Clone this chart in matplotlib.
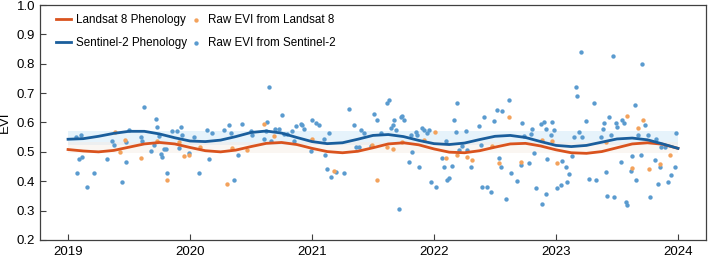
import matplotlib.pyplot as plt

plt.rcParams['font.family'] = ['Liberation Sans', 'DejaVu Sans']

# phenology curves (read every 1/8 year)
curve_t = [2019 + k * 0.125 for k in range(41)]
s2_curve = [0.543, 0.545, 0.553, 0.563, 0.570, 0.570, 0.561, 0.548,
            0.537, 0.535, 0.540, 0.552, 0.566, 0.571, 0.564, 0.549,
            0.535, 0.528, 0.531, 0.543, 0.556, 0.559, 0.552, 0.539,
            0.528, 0.525, 0.530, 0.542, 0.553, 0.556, 0.549, 0.535,
            0.522, 0.518, 0.522, 0.533, 0.544, 0.547, 0.541, 0.527, 0.512]
l8_curve = [0.508, 0.503, 0.500, 0.505, 0.516, 0.527, 0.532, 0.527,
            0.515, 0.504, 0.500, 0.506, 0.518, 0.529, 0.532, 0.525,
            0.512, 0.501, 0.497, 0.502, 0.514, 0.527, 0.531, 0.524,
            0.510, 0.499, 0.497, 0.504, 0.516, 0.527, 0.529, 0.520,
            0.507, 0.497, 0.495, 0.501, 0.514, 0.527, 0.531, 0.526, 0.512]

s2_band = [0.522, 0.570]
l8_band = [0.495, 0.535]

# raw Sentinel-2 EVI
s2_t = [2019.063, 2019.104, 2019.088, 2019.117, 2019.076, 2019.213, 2019.158, 2019.322,
        2019.363, 2019.377, 2019.473, 2019.500, 2019.445, 2019.473, 2019.596, 2019.610,
        2019.623, 2019.719, 2019.732, 2019.678, 2019.705, 2019.746, 2019.760, 2019.773,
        2019.787, 2019.800, 2019.814, 2019.855, 2019.896, 2019.924, 2019.937, 2019.910,
        2019.992, 2020.033, 2020.074, 2020.142, 2020.183, 2020.156, 2020.279, 2020.320,
        2020.334, 2020.361, 2020.396, 2020.429, 2020.497, 2020.510, 2020.607, 2020.620,
        2020.634, 2020.648, 2020.660, 2020.700, 2020.730, 2020.757, 2020.770, 2020.798,
        2020.839, 2020.852, 2020.866, 2020.907, 2020.920, 2020.934, 2021.000, 2021.030,
        2021.057, 2020.990, 2021.098, 2021.110, 2021.125, 2021.139, 2021.154, 2021.194,
        2021.262, 2021.303, 2021.344, 2021.358, 2021.385, 2021.399, 2021.426, 2021.480,
        2021.508, 2021.535, 2021.563, 2021.617, 2021.631, 2021.645, 2021.660, 2021.672,
        2021.686, 2021.727, 2021.740, 2021.754, 2021.713, 2021.795, 2021.810, 2021.822,
        2021.850, 2021.863, 2021.877, 2021.904, 2021.918, 2021.945, 2021.960, 2021.973,
        2022.014, 2022.082, 2022.096, 2022.068, 2022.109, 2022.123, 2022.150, 2022.164,
        2022.178, 2022.190, 2022.205, 2022.232, 2022.260, 2022.273, 2022.300, 2022.370,
        2022.383, 2022.396, 2022.410, 2022.437, 2022.465, 2022.490, 2022.519, 2022.560,
        2022.533, 2022.546, 2022.588, 2022.615, 2022.634, 2022.683, 2022.710, 2022.724,
        2022.738, 2022.779, 2022.793, 2022.806, 2022.820, 2022.834, 2022.874, 2022.888,
        2022.902, 2022.916, 2022.920, 2022.930, 2022.957, 2022.970, 2022.984, 2023.011,
        2023.038, 2023.052, 2023.080, 2023.093, 2023.107, 2023.134, 2023.148, 2023.162,
        2023.175, 2023.189, 2023.205, 2023.216, 2023.244, 2023.270, 2023.311, 2023.325,
        2023.366, 2023.382, 2023.393, 2023.434, 2023.448, 2023.407, 2023.420, 2023.464,
        2023.475, 2023.489, 2023.503, 2023.543, 2023.557, 2023.530, 2023.574, 2023.585,
        2023.612, 2023.625, 2023.645, 2023.653, 2023.672, 2023.694, 2023.707, 2023.727,
        2023.754, 2023.768, 2023.809, 2023.822, 2023.836, 2023.850, 2023.863, 2023.890,
        2023.918, 2023.945, 2023.973, 2023.986]
s2_evi = [0.550, 0.559, 0.477, 0.484, 0.429, 0.427, 0.382, 0.477,
          0.536, 0.525, 0.533, 0.575, 0.397, 0.467, 0.551, 0.536,
          0.654, 0.613, 0.584, 0.502, 0.525, 0.553, 0.494, 0.483,
          0.510, 0.511, 0.428, 0.570, 0.570, 0.583, 0.557, 0.513,
          0.497, 0.552, 0.427, 0.574, 0.565, 0.475, 0.573, 0.593,
          0.565, 0.404, 0.491, 0.596, 0.570, 0.556, 0.543, 0.570,
          0.601, 0.720, 0.538, 0.578, 0.579, 0.624, 0.562, 0.562,
          0.570, 0.536, 0.587, 0.596, 0.591, 0.578, 0.607, 0.599,
          0.593, 0.504, 0.545, 0.491, 0.442, 0.565, 0.416, 0.431,
          0.429, 0.647, 0.593, 0.515, 0.515, 0.574, 0.565, 0.521,
          0.630, 0.610, 0.565, 0.667, 0.675, 0.581, 0.591, 0.610,
          0.574, 0.619, 0.622, 0.607, 0.305, 0.466, 0.559, 0.499,
          0.567, 0.556, 0.447, 0.581, 0.576, 0.565, 0.575, 0.396,
          0.380, 0.449, 0.536, 0.479, 0.403, 0.412, 0.453, 0.609,
          0.566, 0.667, 0.505, 0.521, 0.570, 0.505, 0.450, 0.587,
          0.524, 0.382, 0.618, 0.380, 0.365, 0.604, 0.644, 0.639,
          0.479, 0.449, 0.340, 0.675, 0.428, 0.402, 0.456, 0.597,
          0.553, 0.462, 0.561, 0.578, 0.496, 0.377, 0.596, 0.322,
          0.601, 0.356, 0.578, 0.477, 0.559, 0.602, 0.573, 0.377,
          0.386, 0.468, 0.449, 0.397, 0.425, 0.487, 0.551, 0.720,
          0.690, 0.568, 0.840, 0.551, 0.604, 0.409, 0.667, 0.403,
          0.550, 0.578, 0.599, 0.619, 0.557, 0.431, 0.350, 0.827,
          0.348, 0.599, 0.584, 0.610, 0.599, 0.464, 0.328, 0.320,
          0.434, 0.487, 0.658, 0.403, 0.556, 0.488, 0.800, 0.593,
          0.557, 0.345, 0.471, 0.545, 0.390, 0.447, 0.517, 0.517,
          0.396, 0.422, 0.449, 0.565]

# raw Landsat 8 EVI
l8_t = [2019.385, 2019.467, 2019.426, 2019.600, 2019.732, 2019.910, 2019.951, 2019.992,
        2019.814, 2020.082, 2020.300, 2020.347, 2020.607, 2020.470, 2020.689, 2021.000,
        2021.180, 2021.494, 2021.617, 2021.660, 2021.530, 2021.740, 2021.918, 2022.008,
        2022.096, 2022.186, 2022.273, 2022.314, 2022.478, 2022.533, 2022.615, 2022.710,
        2022.888, 2022.970, 2023.011, 2023.407, 2023.585, 2023.713, 2023.672, 2023.625,
        2023.762, 2023.850, 2023.932]
l8_evi = [0.568, 0.539, 0.499, 0.478, 0.538, 0.534, 0.485, 0.488,
          0.403, 0.518, 0.389, 0.512, 0.594, 0.505, 0.553, 0.545,
          0.434, 0.525, 0.517, 0.511, 0.403, 0.533, 0.542, 0.567,
          0.479, 0.491, 0.483, 0.474, 0.519, 0.462, 0.618, 0.466,
          0.542, 0.536, 0.462, 0.533, 0.622, 0.610, 0.582, 0.445,
          0.443, 0.460, 0.491]

years = [2019, 2020, 2021, 2022, 2023, 2024]
yticks = [0.2, 0.3, 0.4, 0.5, 0.6, 0.7, 0.8, 0.9, 1.0]

fig = plt.figure(figsize=(7.09, 2.58), dpi=100)
ax = fig.add_axes([0.0564, 0.0698, 0.9394, 0.9108])

ax.fill_between([curve_t[0], curve_t[-1]], s2_band[0], s2_band[1], color='#e6f3fb', lw=0, zorder=0)
ax.fill_between([curve_t[0], curve_t[-1]], l8_band[0], l8_band[1], color='#f6ece3', alpha=0.45, lw=0, zorder=0)

ax.scatter(s2_t, s2_evi, s=10, color='#5a9bcf', lw=0, zorder=2, label='Raw EVI from Sentinel-2')
ax.scatter(l8_t, l8_evi, s=10, color='#f3a25c', lw=0, zorder=2, label='Raw EVI from Landsat 8')
ax.plot(curve_t, l8_curve, color='#d9531e', lw=2.0, zorder=3, label='Landsat 8 Phenology')
ax.plot(curve_t, s2_curve, color='#1a5e9c', lw=2.0, zorder=3, label='Sentinel-2 Phenology')

h, lab = ax.get_legend_handles_labels()
order = [2, 3, 1, 0]
ax.legend([h[i] for i in order], [lab[i] for i in order], ncol=2, frameon=False,
          loc='upper left', bbox_to_anchor=(0.008, 1.005), fontsize=8.4,
          handlelength=1.3, handletextpad=0.45, columnspacing=0.05, labelspacing=0.95)

ax.set_xlim(2018.77, 2024.23)
ax.set_ylim(0.2, 1.0)
ax.set_xticks(years)
ax.set_xticklabels([str(y) for y in years])
ax.set_yticks(yticks)
ax.set_yticklabels(['%.1f' % v for v in yticks])
ax.tick_params(direction='in', length=4, labelsize=9.5, color='#404040', width=0.8)
ax.tick_params(axis='x', pad=4)
for s in ax.spines.values():
    s.set_color('#404040')
    s.set_linewidth(0.9)
ax.set_ylabel('EVI', fontsize=9.5, labelpad=4)

fig.savefig('out.png', dpi=100)
